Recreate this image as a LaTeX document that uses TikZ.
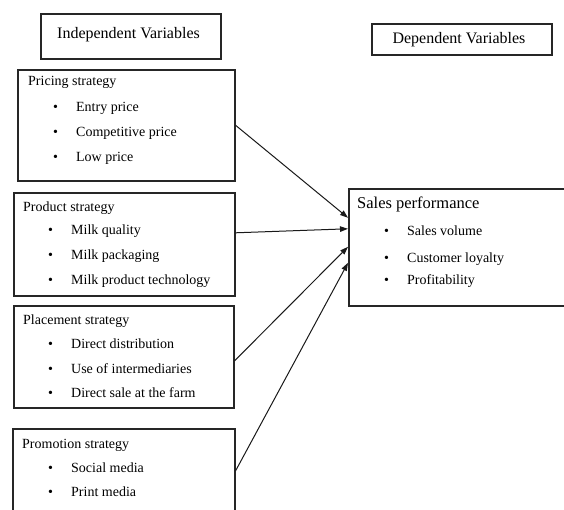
\documentclass[tikz,border=0pt]{standalone}
\usepackage{fontspec}
\setmainfont{Liberation Serif}
\usetikzlibrary{arrows.meta, positioning}

\tikzset{
	box/.style={draw=black!85, line width=1.6pt, rectangle, anchor=north west, inner sep=0pt},
	head/.style={anchor=base west, inner sep=0pt, font=\fontsize{14}{16}\selectfont},
	item/.style={anchor=base west, inner sep=0pt, font=\fontsize{14}{16}\selectfont},
	title/.style={anchor=base, inner sep=0pt, font=\fontsize{16}{18}\selectfont},
	link/.style={-{Triangle[length=8pt, width=5.5pt]}, line width=1pt, black!90}
}
\newcommand{\bul}[1]{\makebox[23pt][l]{\textbullet}#1}

\begin{document}
\begin{tikzpicture}[x=1pt, y=-1pt]

	\useasboundingbox (0,0) rectangle (564,510);
	\clip (0,0) rectangle (564,510);

	% Titoli
	\node[box, minimum width=180pt, minimum height=45pt] (indepbox) at (40,13) {};
	\node[title] (indep) at (128.5,38.5) {Independent Variables};
	\node[box, minimum width=180pt, minimum height=31pt] (depbox) at (371,23) {};
	\node[title] (dep) at (459,43.5) {Dependent Variables};

	% Pricing
	\node[box, minimum width=217pt, minimum height=111pt] (pricing) at (17,69) {};
	\node[head] (pricingHead) at (28,86) {Pricing strategy};
	\node[item] (entry) at (53,112) {\bul{Entry price}};
	\node[item] (compet) at (53,137) {\bul{Competitive price}};
	\node[item] (low) at (53,162) {\bul{Low price}};

	% Product
	\node[box, minimum width=221pt, minimum height=103pt] (product) at (13,192) {};
	\node[head] (productHead) at (23,212) {Product strategy};
	\node[item] (quality) at (48,235) {\bul{Milk quality}};
	\node[item] (packaging) at (48,260) {\bul{Milk packaging}};
	\node[item] (techno) at (48,284) {\bul{Milk product technology}};

	% Placement
	\node[box, minimum width=220pt, minimum height=102pt] (placement) at (13,305) {};
	\node[head] (placementHead) at (23,324) {Placement strategy};
	\node[item] (direct) at (48,348) {\bul{Direct distribution}};
	\node[item] (interm) at (48,373) {\bul{Use of intermediaries}};
	\node[item] (farm) at (48,397) {\bul{Direct sale at the farm}};

	% Promotion
	\node[box, minimum width=222pt, minimum height=92pt] (promo) at (12,428) {};
	\node[head] (promoHead) at (22,448) {Promotion strategy};
	\node[item] (social) at (48,472) {\bul{Social media}};
	\node[item] (print) at (48,496) {\bul{Print media}};

	% Sales
	\node[box, minimum width=232pt, minimum height=117pt] (sales) at (348,188) {};
	\node[head, font=\fontsize{16.5}{18}\selectfont] (salesHead) at (357,208.5) {Sales performance};
	\node[item] (volume) at (384,236) {\bul{Sales volume}};
	\node[item] (loyalty) at (384,262) {\bul{Customer loyalty}};
	\node[item] (profit) at (384,284) {\bul{Profitability}};

	% Frecce
	\draw[link] (pricing.east) -- ([yshift=29.5pt]sales.west);
	\draw[link] ([yshift=11.5pt]product.east) -- ([yshift=18.5pt]sales.west);
	\draw[link] ([yshift=-4pt]placement.east) -- ([yshift=0.5pt]sales.west);
	\draw[link] ([yshift=4pt]promo.east) -- ([yshift=-15.5pt]sales.west);

\end{tikzpicture}
\end{document}
